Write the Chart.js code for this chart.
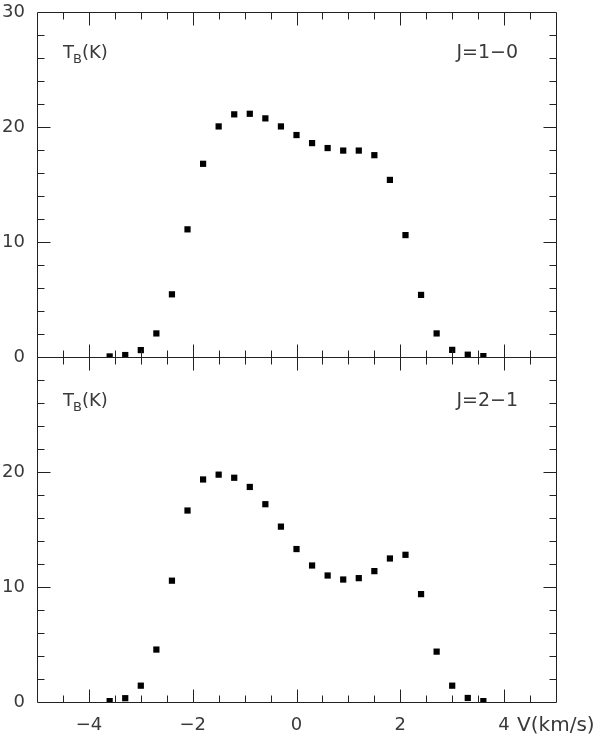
<!DOCTYPE html>
<html><head><meta charset="utf-8">
<script src="https://cdn.jsdelivr.net/npm/chart.js@4.4.1/dist/chart.umd.min.js"></script>
<style>html,body{margin:0;padding:0;background:#fff}#wrap{width:600px;height:735px;position:relative}</style>
</head><body><div id="wrap"><canvas id="c" width="600" height="735"></canvas></div>
<script>
// Velocity channels (km/s)
const velocities = [-3.6,-3.3,-3.0,-2.7,-2.4,-2.1,-1.8,-1.5,-1.2,-0.9,-0.6,-0.3,0.0,0.3,0.6,0.9,1.2,1.5,1.8,2.1,2.4,2.7,3.0,3.3,3.6];
// Brightness temperature T_B (K), J=1-0 line
const tbJ10 = [0.05,0.17,0.6,2.05,5.45,11.1,16.8,20.05,21.1,21.15,20.75,20.05,19.3,18.6,18.17,17.95,17.95,17.55,15.4,10.6,5.4,2.05,0.62,0.2,0.08];
// Brightness temperature T_B (K), J=2-1 line
const tbJ21 = [0.08,0.33,1.42,4.56,10.55,16.65,19.35,19.77,19.5,18.7,17.2,15.25,13.3,11.87,11.0,10.65,10.77,11.38,12.48,12.8,9.38,4.38,1.42,0.35,0.08];
// Tick labels
const xTickValues = [-4,-2,0,2,4];
const yTickValues = [0,10,20,30];
const panelLabels = ["J=1\u22120", "J=2\u22121"];
const yAxisLabel = "T";
const yAxisSub = "B";
const yAxisUnit = "(K)";
const xAxisLabel = "V(km/s)";

const FONT = "DejaVu Sans";
const INK = "#222";
const TXT = "#3a3a3a";

function fmt(v){ return v < 0 ? "\u2212" + Math.abs(v) : String(v); }

const framePlugin = {
  id: 'frame',
  afterDatasetsDraw(chart) {
    const ctx = chart.ctx;
    const x = chart.scales.x, yt = chart.scales.yTop, yb = chart.scales.yBot;
    const L = chart.chartArea.left, R = chart.chartArea.right;
    const r = v => Math.round(v) + 0.5;
    ctx.save();
    ctx.strokeStyle = INK; ctx.lineWidth = 1;
    ctx.beginPath();
    [yt, yb].forEach(ys => {
      const T = ys.getPixelForValue(30), B = ys.getPixelForValue(0);
      ctx.rect(r(L), r(T), Math.round(R) - Math.round(L), Math.round(B) - Math.round(T));
      for (let v = -4.5; v <= 4.51; v += 0.5) {
        const vv = Math.round(v * 10) / 10;
        const len = (Math.abs(vv % 2) < 1e-6) ? 13 : 7;
        const px = r(x.getPixelForValue(vv));
        ctx.moveTo(px, r(T)); ctx.lineTo(px, r(T) + len);
        ctx.moveTo(px, r(B)); ctx.lineTo(px, r(B) - len);
      }
      for (let v = 2; v <= 28; v += 2) {
        const len = (v % 10 === 0) ? 13 : 7;
        const py = r(ys.getPixelForValue(v));
        ctx.moveTo(r(L), py); ctx.lineTo(r(L) + len, py);
        ctx.moveTo(r(R), py); ctx.lineTo(r(R) - len, py);
      }
    });
    ctx.stroke();

    ctx.fillStyle = TXT;
    ctx.textBaseline = 'alphabetic';
    [[yt, 46.3], [yb, 49]].forEach(([ys, off], i) => {
      const T = ys.getPixelForValue(30);
      const base = T + off;
      let tx = L + 26;
      ctx.textAlign = 'left';
      ctx.font = `18px "${FONT}"`;
      ctx.fillText(yAxisLabel, tx, base);
      tx += ctx.measureText(yAxisLabel).width - 1;
      ctx.font = `13px "${FONT}"`;
      ctx.fillText(yAxisSub, tx, base + 4.5);
      tx += ctx.measureText(yAxisSub).width;
      ctx.font = `18px "${FONT}"`;
      ctx.fillText(yAxisUnit, tx, base);
      ctx.textAlign = 'right';
      ctx.font = `19px "${FONT}"`;
      ctx.fillText(panelLabels[i], R - 38, base);
    });
    ctx.textAlign = 'left';
    ctx.font = `20px "${FONT}"`;
    ctx.fillText(xAxisLabel, x.getPixelForValue(4) + 13, yb.getPixelForValue(0) + 28.5);
    ctx.restore();
  }
};

const pointStyle = {
  showLine: false, pointStyle: 'rect', pointRadius: 4.4, pointHoverRadius: 4.4,
  backgroundColor: '#000', borderWidth: 0,
  clip: {left: 10, right: 10, top: 10, bottom: 0}
};

function yFit(s){ s.width = 37; s.paddingTop = 0; s.paddingBottom = 0; }

new Chart(document.getElementById('c'), {
  type: 'scatter',
  data: {
    datasets: [
      Object.assign({ label: 'J=1-0', yAxisID: 'yTop', data: velocities.map((v, i) => ({x: v, y: tbJ10[i]})) }, pointStyle),
      Object.assign({ label: 'J=2-1', yAxisID: 'yBot', data: velocities.map((v, i) => ({x: v, y: tbJ21[i]})) }, pointStyle)
    ]
  },
  options: {
    responsive: false, animation: false, devicePixelRatio: 1,
    layout: { padding: { left: 0, right: 44, top: 12, bottom: 0 } },
    plugins: { legend: { display: false }, tooltip: { enabled: false } },
    scales: {
      x: {
        type: 'linear', position: 'bottom', min: -5, max: 5,
        grid: { display: false, drawTicks: false }, border: { display: false },
        afterBuildTicks: s => { s.ticks = xTickValues.map(v => ({value: v})); },
        afterFit: s => { s.height = 33; s.paddingLeft = 0; s.paddingRight = 0; },
        ticks: { padding: 13, color: TXT, font: { family: FONT, size: 18 }, maxRotation: 0,
          callback: v => fmt(v) }
      },
      yBot: {
        type: 'linear', position: 'left', stack: 'panels', stackWeight: 1, weight: 0,
        min: 0, max: 30,
        grid: { display: false, drawTicks: false }, border: { display: false },
        afterBuildTicks: s => { s.ticks = yTickValues.map(v => ({value: v})); },
        afterFit: yFit,
        ticks: { padding: 12, color: TXT, font: { family: FONT, size: 18 },
          callback: v => v === 30 ? '' : fmt(v) }
      },
      yTop: {
        type: 'linear', position: 'left', stack: 'panels', stackWeight: 1, weight: 1,
        min: 0, max: 30,
        grid: { display: false, drawTicks: false }, border: { display: false },
        afterBuildTicks: s => { s.ticks = yTickValues.map(v => ({value: v})); },
        afterFit: yFit,
        ticks: { padding: 12, color: TXT, font: { family: FONT, size: 18 },
          callback: v => fmt(v) }
      }
    }
  },
  plugins: [framePlugin]
});
</script>
</body></html>
